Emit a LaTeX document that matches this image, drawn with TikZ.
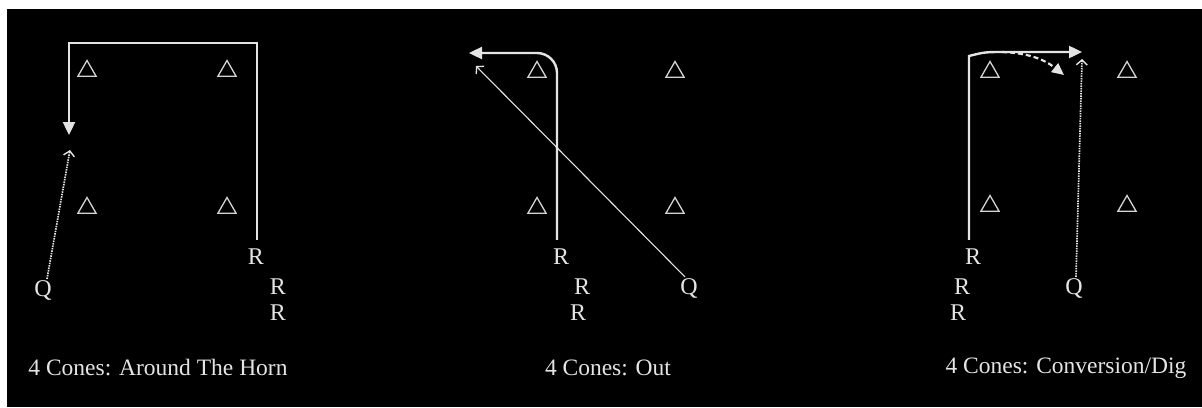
\documentclass[tikz,border=0pt]{standalone}
\usepackage{fontspec}
\setmainfont{Liberation Serif}
\usetikzlibrary{arrows.meta,shapes.geometric}
\definecolor{ink}{HTML}{E4E4E4}
\definecolor{coneink}{HTML}{D4D4D4}
\tikzset{
  lbl/.style={text=ink, font=\fontsize{24}{28}\selectfont, inner sep=1pt, anchor=center},
  captxt/.style={text=ink, font=\fontsize{23.5}{27}\selectfont, inner sep=0pt, anchor=center},
  cone/.style={draw=coneink, line width=1.3pt, regular polygon, regular polygon sides=3, minimum size=21pt, inner sep=0pt},
  route/.style={draw=ink, line width=2.4pt, shorten <=8pt, -{Triangle[length=13pt,width=12pt]}},
  qthin/.style={draw=ink, line width=1.1pt, -{Straight Barb[length=5pt,width=11pt,line width=1.3pt]}},
  qdot/.style={draw=ink, line width=1.7pt, dash pattern=on 1.5pt off 1pt, -{Straight Barb[length=5pt,width=11pt,line width=1.4pt,sep=0pt]}},
  rdash/.style={draw=ink, line width=2.2pt, dash pattern=on 5pt off 3pt, -{Triangle[length=12pt,width=11pt]}}
}
\begin{document}
\begin{tikzpicture}[x=1pt,y=-1pt]
\useasboundingbox (0,0) rectangle (1202,407);
\fill[white] (0,0) rectangle (1202,407);
\fill[black] (7,9) rectangle (1202,407);

% ---------- Panel 1: Around The Horn ----------
\node[cone] (k1a) at (87,71) {};
\node[cone] (k1b) at (227,71) {};
\node[cone] (k1c) at (87,208) {};
\node[cone] (k1d) at (227,208) {};
\node[lbl] (R1a) at (256,257) {R};
\node[lbl] (R1b) at (278,287) {R};
\node[lbl] (R1c) at (278,313) {R};
\node[lbl] (Q1) at (43,290) {Q};
\node[captxt] (T1) at (158,368) {4 Cones: Around The Horn};
\coordinate (c1) at (69,43);
\coordinate (e1) at (69,135);
\coordinate (f1) at (70,150);
\draw[route] ([xshift=1pt]R1a.north) |- (c1) -- (e1);
\draw[qdot] ([xshift=4pt]Q1.north) -- (f1);

% ---------- Panel 2: Out ----------
\node[cone] (k2a) at (537,72) {};
\node[cone] (k2b) at (675,72) {};
\node[cone] (k2c) at (537,208) {};
\node[cone] (k2d) at (675,208) {};
\node[lbl] (R2a) at (561,257) {R};
\node[lbl] (R2b) at (582,287) {R};
\node[lbl] (R2c) at (578,313) {R};
\node[lbl] (Q2) at (689,288) {Q};
\node[captxt] (T2) at (608,368) {4 Cones: Out};
\coordinate (e2) at (469,53);
\coordinate (g2) at (476,66);
\draw[route, rounded corners=20pt] ([xshift=-4pt]R2a.north) |- (e2);
\draw[qthin] ([xshift=-4pt]Q2.north) -- (g2);

% ---------- Panel 3: Conversion/Dig ----------
\node[cone] (k3a) at (990,72) {};
\node[cone] (k3b) at (1127,72) {};
\node[cone] (k3c) at (990,206) {};
\node[cone] (k3d) at (1127,206) {};
\node[lbl] (R3a) at (973,257) {R};
\node[lbl] (R3b) at (962,287) {R};
\node[lbl] (R3c) at (958,313) {R};
\node[lbl] (Q3) at (1074,288) {Q};
\node[captxt] (T3) at (1066,368) {4 Cones: Conversion/Dig};
\coordinate (c3) at (969,56);
\coordinate (e3) at (1082,52);
\coordinate (d3) at (1002,52);
\coordinate (h3) at (1064,75);
\coordinate (g3) at (1082,59);
\draw[route] ([xshift=-4pt]R3a.north) -- (c3) .. controls (985,52) .. (1005,52) -- (e3);
\draw[rdash] (d3) to[bend left=18] (h3);
\draw[qdot] ([xshift=2pt]Q3.north) -- (g3);
\end{tikzpicture}
\end{document}
